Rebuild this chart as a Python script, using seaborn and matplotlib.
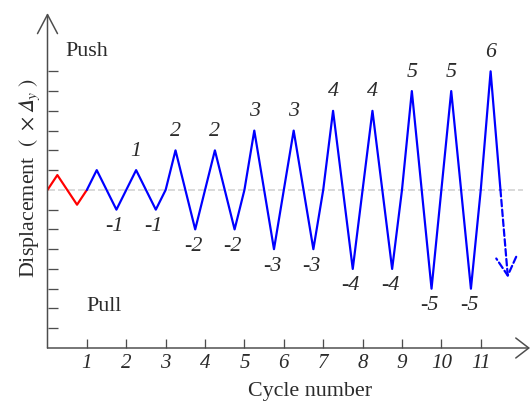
import matplotlib
matplotlib.use('Agg')
import matplotlib.pyplot as plt
import seaborn as sns

## data (cycle number vs displacement in multiples of yield displacement)
red_t = [0.0, 0.25, 0.75, 1.0]
red_d = [0.0, 0.75, -0.75, 0.0]

blue_t = [1.0, 1.25, 1.75, 2.25, 2.75, 3.0, 3.25, 3.75, 4.25, 4.75, 5.0,
          5.25, 5.75, 6.25, 6.75, 7.0, 7.25, 7.75, 8.25, 8.75, 9.0,
          9.25, 9.75, 10.25, 10.75, 11.0, 11.25, 11.5]
blue_d = [0, 1, -1, 1, -1, 0, 2, -2, 2, -2, 0,
          3, -3, 3, -3, 0, 4, -4, 4, -4, 0,
          5, -5, 5, -5, 0, 6, 0]

# last branch keeps going (dashed arrow)
tail_t = [11.5, 11.69]
tail_d = [0.0, -4.45]

peak_x = [2.25, 3.25, 4.25, 5.25, 6.25, 7.25, 8.25, 9.25, 10.25, 11.25]
peak_y = [1, 2, 2, 3, 3, 4, 4, 5, 5, 6]
peak_lbl = ['1', '2', '2', '3', '3', '4', '4', '5', '5', '6']

trough_x = [1.75, 2.75, 3.75, 4.75, 5.75, 6.75, 7.75, 8.75, 9.75, 10.75]
trough_y = [-1, -1, -2, -2, -3, -3, -4, -4, -5, -5]
trough_lbl = ['-1', '-1', '-2', '-2', '-3', '-3', '-4', '-4', '-5', '-5']

xticks = list(range(1, 12))
yticks = [-7, -6, -5, -4, -3, -2, -1, 1, 2, 3, 4, 5, 6]

## style
sns.set_style('white')
plt.rcParams['font.family'] = ['Liberation Serif', 'DejaVu Serif']
plt.rcParams['mathtext.fontset'] = 'stix'

txt = '#2b2b2b'
axc = '#4d4d4d'

fig = plt.figure(figsize=(531 / 72, 410 / 72), dpi=72)
ax = fig.add_axes([47.5 / 531, 62 / 410, 482.5 / 531, 335 / 410])
ax.set_xlim(0, 12.25)
ax.set_ylim(-8, 8.95)
for s in ax.spines.values():
    s.set_visible(False)
ax.patch.set_alpha(0)

# zero reference line
ax.axhline(0, xmin=0, xmax=0.985, color='#dadada', lw=2, ls=(0, (3.5, 1.5)), zorder=1)

sns.lineplot(x=red_t, y=red_d, color='red', lw=2.2, estimator=None, sort=False, ax=ax, zorder=3)
sns.lineplot(x=blue_t, y=blue_d, color='blue', lw=2.2, estimator=None, sort=False, ax=ax, zorder=3)
ax.annotate('', xy=(tail_t[1], tail_d[1]), xytext=(tail_t[0], tail_d[0]),
            arrowprops=dict(arrowstyle='->,head_length=0.9,head_width=0.5', color='blue',
                            lw=2.2, ls=(0, (3, 1.5)), shrinkA=0, shrinkB=0, mutation_scale=20))

# peak / trough labels
for x, y, s in zip(peak_x, peak_y, peak_lbl):
    ax.annotate(s, (x, y), xytext=(0, 19), textcoords='offset points', ha='center', va='center',
                fontsize=22, style='italic', color=txt)
for x, y, s in zip(trough_x, trough_y, trough_lbl):
    ax.annotate(s, (x, y), xytext=(-2, -17), textcoords='offset points', ha='center', va='center',
                fontsize=22, style='italic', color=txt)

ax.text(1.0, 7.0, 'Push', fontsize=22, color=txt, ha='center', va='center')
ax.text(1.43, -5.9, 'Pull', fontsize=22, color=txt, ha='center', va='center')

# axes with open arrow heads
ax.annotate('', xy=(1, 0), xytext=(0, 0), xycoords='axes fraction', textcoords='axes fraction',
            arrowprops=dict(arrowstyle='->,head_length=0.65,head_width=0.5', color=axc, lw=1.5,
                            shrinkA=0, shrinkB=0, mutation_scale=20))
ax.annotate('', xy=(0, 1), xytext=(0, 0), xycoords='axes fraction', textcoords='axes fraction',
            arrowprops=dict(arrowstyle='->,head_length=0.95,head_width=0.5', color=axc, lw=1.5,
                            shrinkA=0, shrinkB=0, mutation_scale=20))

ax.set_xticks(xticks)
ax.set_xticklabels([str(t) for t in xticks], style='italic', fontsize=21, color=txt)
ax.set_yticks(yticks)
ax.set_yticklabels([])
ax.tick_params(axis='x', direction='in', length=9, width=1.3, color=axc, pad=6)
ax.tick_params(axis='y', direction='in', length=10, width=1.3, color=axc, left=True)
ax.tick_params(axis='x', bottom=True)

ax.set_xlabel('Cycle number', fontsize=22, color=txt)
ax.xaxis.set_label_coords(0.544, -0.131)
ax.xaxis.label.set_va('center')
ax.set_ylabel('Displacement  $(\\ \\times\U0001D6E5_y\\ )$', fontsize=22, color=txt)
ax.yaxis.set_label_coords(-0.036, 0.507)
ax.yaxis.label.set_va('center')

fig.savefig('out.png', dpi=72)
